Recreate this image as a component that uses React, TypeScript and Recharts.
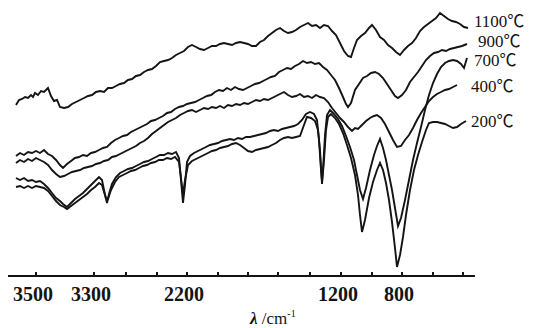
import { LineChart, Line, XAxis, YAxis } from "recharts";

// IR spectra of samples treated at different temperatures.
// x = position along the (broken) wavenumber axis, y = relative transmittance (arb. units)
const s1100: [number, number][] = [
  [16, 171], [19, 176], [22, 177], [25, 179], [28, 178], [31, 181], [33, 179], [35, 183], [38, 181], [41, 185],
  [44, 184], [48, 188], [51, 180], [54, 175], [57, 176], [60, 169], [64, 168], [68, 169], [72, 172], [76, 174],
  [80, 176], [84, 178], [88, 180], [92, 181], [96, 184], [100, 185], [104, 184], [108, 188], [112, 188], [116, 190],
  [120, 192], [124, 193], [128, 196], [132, 197], [136, 200], [140, 201], [144, 204], [148, 206], [152, 207], [156, 210],
  [160, 214], [164, 215], [168, 216], [172, 218], [176, 221], [180, 223], [184, 225], [188, 229], [192, 231], [196, 229],
  [200, 227], [204, 226], [208, 228], [212, 230], [216, 230], [220, 232], [224, 233], [228, 232], [232, 231], [236, 233],
  [240, 234], [244, 233], [248, 232], [252, 230], [256, 230], [260, 234], [264, 236], [268, 240], [272, 243], [276, 246],
  [280, 248], [284, 245], [288, 243], [292, 244], [296, 246], [300, 249], [304, 251], [308, 253], [312, 250], [316, 251],
  [320, 248], [324, 251], [328, 250], [332, 245], [336, 241], [340, 233], [344, 225], [348, 220], [351, 219], [354, 228],
  [357, 236], [361, 240], [365, 243], [369, 248], [372, 251], [376, 246], [380, 239], [384, 236], [388, 231], [392, 228],
  [396, 224], [400, 221], [404, 226], [408, 230], [412, 233], [416, 238], [420, 245], [424, 249], [428, 252], [432, 255],
  [436, 258], [440, 263], [444, 260], [448, 257], [452, 255], [456, 254], [460, 252], [464, 249], [468, 248],
];

const s900: [number, number][] = [
  [16, 120], [20, 123], [24, 121], [28, 124], [32, 123], [36, 125], [40, 123], [44, 126], [48, 122], [52, 120],
  [56, 116], [60, 111], [63, 108], [67, 112], [71, 115], [75, 118], [79, 119], [83, 121], [87, 120], [91, 123],
  [95, 124], [99, 126], [103, 128], [107, 129], [111, 133], [115, 136], [119, 138], [123, 140], [127, 141], [131, 144],
  [135, 146], [139, 148], [143, 150], [147, 152], [151, 155], [155, 156], [159, 158], [163, 160], [167, 163], [171, 164],
  [175, 167], [179, 169], [183, 170], [187, 172], [191, 173], [195, 174], [199, 176], [203, 178], [207, 180], [211, 181],
  [215, 184], [219, 186], [223, 185], [227, 188], [231, 186], [235, 189], [239, 187], [243, 186], [247, 188], [251, 190],
  [255, 192], [259, 193], [263, 195], [267, 197], [271, 199], [275, 200], [279, 204], [283, 206], [287, 208], [291, 207],
  [295, 210], [299, 212], [303, 215], [307, 213], [311, 214], [315, 212], [319, 213], [323, 209], [327, 206], [331, 201],
  [335, 196], [339, 188], [343, 179], [346, 172], [348, 169], [351, 173], [355, 186], [359, 192], [363, 198], [367, 200],
  [371, 203], [375, 204], [379, 202], [383, 198], [387, 192], [391, 186], [395, 180], [398, 178], [402, 181], [406, 186],
  [410, 194], [414, 199], [418, 204], [422, 210], [426, 216], [430, 220], [434, 223], [438, 224], [442, 226], [446, 225],
  [450, 227], [454, 228], [458, 229], [462, 230], [467, 232],
];

const s700: [number, number][] = [
  [16, 98], [20, 96], [24, 98], [28, 95], [32, 96], [36, 94], [40, 95], [44, 92], [48, 88], [52, 83],
  [56, 78], [60, 75], [63, 72], [67, 69], [71, 73], [75, 77], [79, 80], [83, 83], [87, 87], [91, 91],
  [95, 95], [99, 99], [102, 96], [104, 86], [106, 77], [107, 73], [109, 82], [112, 92], [116, 99], [120, 103],
  [124, 105], [128, 107], [132, 108], [136, 110], [140, 112], [144, 114], [148, 115], [152, 117], [156, 119], [160, 121],
  [164, 121], [168, 123], [172, 122], [176, 124], [179, 118], [181, 96], [183, 73], [185, 91], [187, 114], [190, 120],
  [194, 123], [198, 125], [202, 127], [206, 129], [210, 131], [214, 132], [218, 133], [222, 135], [226, 136], [230, 137],
  [234, 136], [238, 138], [242, 137], [246, 139], [250, 139], [254, 140], [258, 141], [262, 142], [266, 143], [270, 145],
  [274, 146], [278, 145], [282, 147], [286, 148], [290, 149], [294, 150], [298, 152], [302, 156], [306, 162], [310, 164],
  [314, 162], [317, 156], [319, 136], [321, 106], [322, 95], [323, 106], [325, 141], [327, 161], [330, 166], [334, 162],
  [338, 157], [342, 150], [346, 140], [350, 129], [354, 116], [357, 101], [360, 86], [363, 77], [366, 88], [370, 106],
  [374, 121], [377, 130], [380, 137], [383, 128], [386, 116], [389, 101], [392, 86], [395, 68], [398, 50], [401, 58],
  [405, 76], [409, 96], [413, 116], [417, 133], [421, 149], [425, 166], [429, 181], [433, 193], [437, 202], [441, 209],
  [445, 213], [449, 215], [453, 216], [457, 215], [461, 212], [464, 208], [467, 218],
];

const s400: [number, number][] = [
  [16, 113], [20, 116], [24, 114], [28, 117], [32, 115], [36, 118], [40, 116], [44, 114], [48, 111], [52, 106],
  [56, 102], [60, 99], [64, 100], [68, 102], [72, 104], [76, 105], [80, 106], [84, 108], [88, 109], [92, 110],
  [96, 112], [100, 113], [104, 115], [108, 116], [112, 119], [116, 120], [120, 122], [124, 124], [128, 126], [132, 128],
  [136, 130], [140, 133], [144, 135], [148, 138], [152, 142], [156, 145], [160, 148], [164, 151], [168, 154], [172, 156],
  [176, 158], [180, 161], [184, 163], [188, 165], [192, 166], [196, 164], [200, 166], [204, 168], [208, 167], [212, 169],
  [216, 168], [220, 170], [224, 168], [228, 171], [232, 170], [236, 172], [240, 171], [244, 173], [248, 172], [252, 174],
  [256, 176], [260, 175], [264, 177], [268, 176], [272, 178], [276, 180], [280, 182], [284, 184], [288, 181], [292, 179],
  [296, 180], [300, 182], [304, 179], [308, 180], [312, 178], [316, 181], [320, 179], [324, 178], [328, 174], [332, 168],
  [336, 163], [340, 158], [344, 154], [348, 149], [352, 145], [355, 148], [358, 147], [362, 151], [366, 155], [370, 158],
  [374, 160], [377, 161], [381, 158], [385, 152], [389, 144], [393, 136], [397, 129], [401, 130], [405, 136], [409, 141],
  [413, 148], [417, 156], [421, 163], [425, 169], [429, 175], [433, 179], [437, 182], [441, 184], [445, 186], [449, 187],
  [453, 189], [457, 191],
];

const s200: [number, number][] = [
  [16, 89], [20, 90], [24, 88], [28, 90], [32, 88], [36, 90], [40, 89], [44, 88], [48, 85], [52, 80],
  [56, 75], [60, 71], [64, 69], [67, 67], [71, 70], [75, 73], [79, 76], [83, 79], [87, 82], [91, 86],
  [95, 89], [99, 93], [102, 91], [104, 84], [106, 78], [108, 77], [111, 86], [115, 94], [119, 99], [123, 101],
  [127, 103], [131, 105], [135, 106], [139, 108], [143, 110], [147, 111], [151, 113], [155, 114], [159, 116], [163, 116],
  [167, 118], [171, 117], [175, 119], [179, 114], [181, 98], [183, 81], [185, 96], [188, 111], [192, 115], [196, 117],
  [200, 119], [204, 121], [208, 123], [212, 125], [216, 126], [220, 128], [224, 129], [228, 130], [232, 132], [236, 133],
  [240, 131], [244, 128], [248, 125], [252, 124], [256, 126], [260, 127], [264, 128], [268, 129], [272, 131], [276, 133],
  [280, 136], [284, 138], [288, 139], [292, 138], [296, 139], [300, 140], [304, 151], [307, 159], [311, 158], [315, 155],
  [318, 146], [320, 126], [322, 92], [324, 116], [326, 146], [328, 159], [331, 162], [335, 158], [339, 152], [343, 143],
  [347, 131], [351, 118], [355, 101], [358, 81], [360, 61], [362, 44], [365, 56], [369, 78], [373, 94], [377, 106],
  [380, 113], [383, 106], [386, 93], [389, 76], [392, 54], [395, 28], [397, 9], [400, 21], [403, 39], [406, 61],
  [410, 86], [414, 106], [418, 121], [422, 134], [426, 146], [429, 153], [433, 154], [437, 154], [441, 153], [445, 152],
  [449, 150], [453, 148], [457, 149], [461, 152], [466, 155],
];

const series = [
  { name: "1100℃", points: s1100 },
  { name: "900℃", points: s900 },
  { name: "700℃", points: s700 },
  { name: "400℃", points: s400 },
  { name: "200℃", points: s200 },
];

// axis tick marks and the few that carry a wavenumber label
const tickPos = [36, 94, 126, 157, 187, 218, 248, 278, 310, 341, 372, 402, 433, 463];
const tickText = ["3500", "3300", "", "", "2200", "", "", "", "", "1200", "", "800", "", ""];

// where each temperature label sits (right of the curve ends)
const labelPos: [number, number][] = [
  [474, 27],
  [478, 47],
  [474, 66],
  [471, 92],
  [471, 127],
];

const serif = "'Liberation Serif', 'Times New Roman', 'Noto Sans CJK SC', serif";
const ink = "#141414";

function AxisTick(props: any) {
  const { x, y, payload } = props;
  const i = tickPos.indexOf(payload.value);
  const label = i >= 0 ? tickText[i] : "";
  return (
    <g>
      <line x1={x} x2={x} y1={y} y2={y - 4} stroke={ink} strokeWidth={2} />
      {label && (
        <text x={x - 3} y={y + 25} textAnchor="middle" fontFamily={serif} fontSize={20} fontWeight="bold" fill={ink}>
          {label}
        </text>
      )}
    </g>
  );
}

export default function App() {
  return (
    <div style={{ position: "absolute", left: 0, top: 0, width: 539, height: 328, background: "#fff" }}>
      <LineChart width={539} height={328} margin={{ top: 0, right: 64, bottom: 12, left: 8 }}>
        <XAxis
          type="number"
          dataKey="x"
          domain={[8, 475]}
          ticks={tickPos}
          interval={0}
          height={40}
          tickLine={false}
          tickSize={0}
          tickMargin={0}
          axisLine={{ stroke: ink, strokeWidth: 2 }}
          tick={<AxisTick />}
          allowDataOverflow
        />
        <YAxis type="number" domain={[0, 276]} hide />
        {series.map((s) => (
          <Line
            key={s.name}
            data={s.points.map(([x, y]) => ({ x, y }))}
            dataKey="y"
            type="linear"
            stroke={ink}
            strokeWidth={1.9}
            dot={false}
            isAnimationActive={false}
          />
        ))}
      </LineChart>
      <svg width={539} height={328} style={{ position: "absolute", left: 0, top: 0, pointerEvents: "none" }}>
        {series.map((s, i) => (
          <text key={s.name} x={labelPos[i][0]} y={labelPos[i][1]} fontFamily={serif} fontSize={17} fill={ink}>
            {s.name}
          </text>
        ))}
        <text x={250} y={324} fontFamily={serif} fontSize={17} fill={ink}>
          <tspan fontWeight="bold" fontStyle="italic">λ</tspan>
          <tspan> /cm</tspan>
          <tspan dy={-7} fontSize={10}>-1</tspan>
        </text>
      </svg>
    </div>
  );
}
